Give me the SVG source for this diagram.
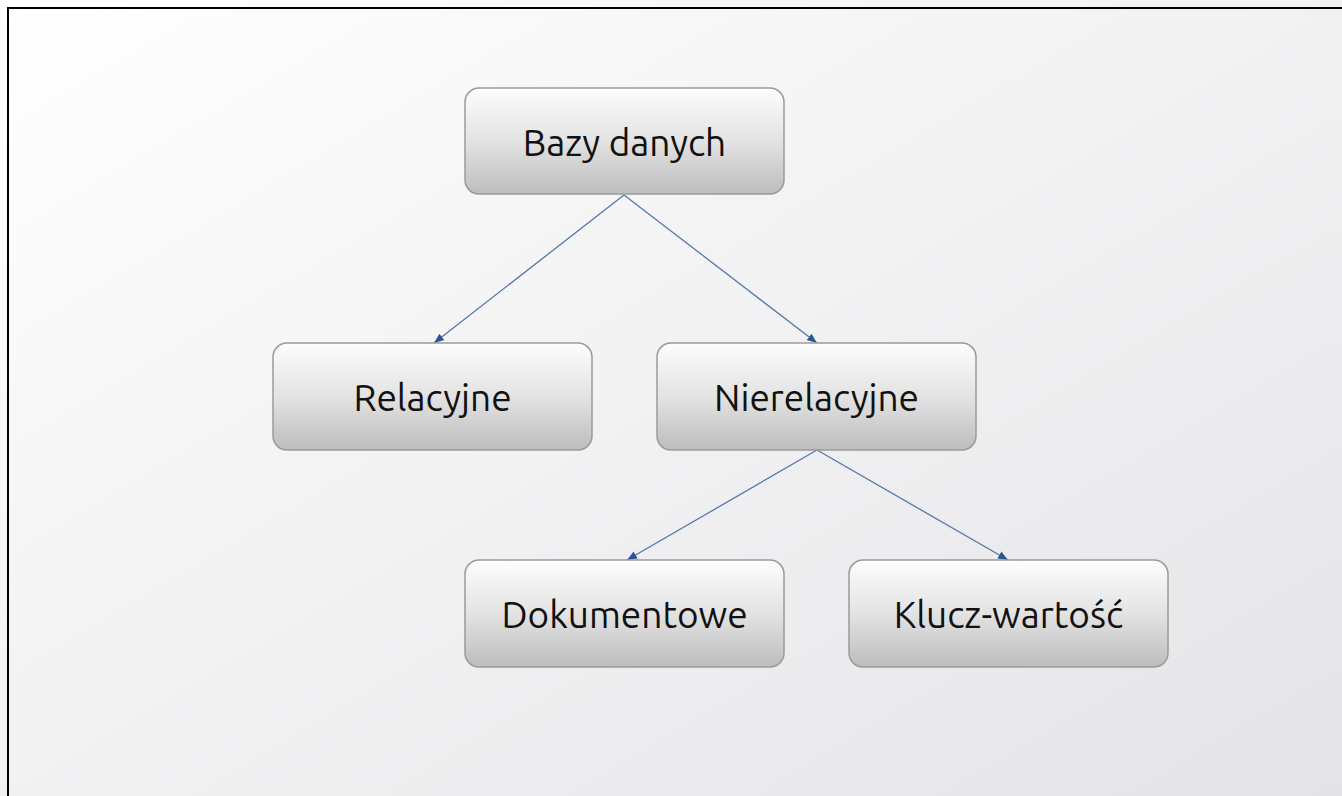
<svg xmlns="http://www.w3.org/2000/svg" width="1342" height="796" viewBox="0 0 1342 796">
<defs>
<linearGradient id="bg" x1="0" y1="0" x2="1" y2="1">
<stop offset="0" stop-color="#ffffff"/>
<stop offset="1" stop-color="#e4e3e6"/>
</linearGradient>
<linearGradient id="box" x1="0" y1="0" x2="0" y2="1">
<stop offset="0" stop-color="#fdfdfd"/>
<stop offset="0.5" stop-color="#e3e3e3"/>
<stop offset="1" stop-color="#bdbdbd"/>
</linearGradient>
<marker id="arr" viewBox="0 0 10 10" refX="10" refY="5" markerWidth="10" markerHeight="10" markerUnits="userSpaceOnUse" orient="auto">
<path d="M0,1 L10,5 L0,9 z" fill="#2a5592"/>
</marker>
</defs>
<style>
.node rect{fill:url(#box);stroke:#9a9a9a;stroke-width:1.5}
.node text{font-family:"Ubuntu","Open Sans","Noto Sans",sans-serif;font-size:37px;fill:#111;text-anchor:middle;dominant-baseline:central}
.edge{stroke:#5578a8;stroke-width:1.3;fill:none;marker-end:url(#arr)}
</style>
<rect x="0" y="0" width="1342" height="796" fill="url(#bg)"/>
<path d="M8,796 L8,8 L1342,8" fill="none" stroke="#000" stroke-width="2"/>
<g id="connectors">
<line class="edge" x1="624" y1="195" x2="434" y2="343"/>
<line class="edge" x1="624" y1="195" x2="817" y2="343"/>
<line class="edge" x1="817" y1="450" x2="627" y2="560"/>
<line class="edge" x1="817" y1="450" x2="1008" y2="560"/>
</g>
<g id="bazy" class="node"><rect x="465" y="88" width="319" height="106" rx="14"/><text x="624.5" y="142">Bazy danych</text></g>
<g id="relacyjne" class="node"><rect x="273" y="343" width="319" height="107" rx="14"/><text x="432.5" y="397">Relacyjne</text></g>
<g id="nierelacyjne" class="node"><rect x="657" y="343" width="319" height="107" rx="14"/><text x="816.5" y="397">Nierelacyjne</text></g>
<g id="dokumentowe" class="node"><rect x="465" y="560" width="319" height="107" rx="14"/><text x="624.5" y="614">Dokumentowe</text></g>
<g id="klucz" class="node"><rect x="849" y="560" width="319" height="107" rx="14"/><text x="1008.5" y="614">Klucz-wartość</text></g>
</svg>
